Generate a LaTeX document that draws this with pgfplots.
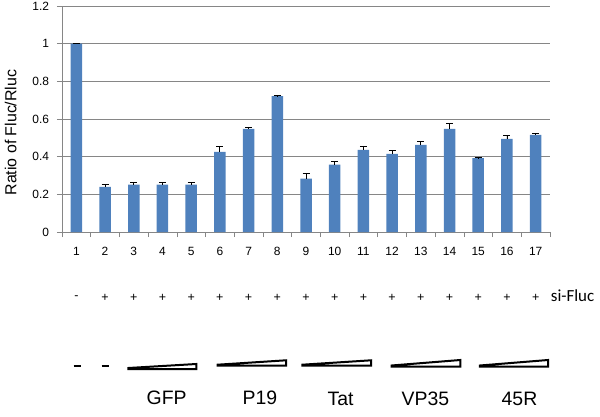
\documentclass[border=0pt]{standalone}
\usepackage{pgfplots}
\pgfplotsset{compat=1.18}
\usepackage{fontspec}
\setmainfont{Liberation Sans}
\newfontfamily\calibri{Carlito}
\definecolor{barblue}{HTML}{4F81BD}
\definecolor{gridgray}{HTML}{868686}
\begin{document}
\begin{tikzpicture}[x=1bp,y=1bp]
\begin{axis}[
  at={(0,0)}, anchor=south west,
  scale only axis, width=488bp, height=226bp,
  xmin=0.5, xmax=17.5, ymin=0, ymax=1.2,
  axis x line*=bottom, axis y line*=left,
  axis line style={gridgray, line width=0.6pt},
  ytick={0,0.2,...,1.2},
  yticklabels={0,0.2,0.4,0.6,0.8,1,1.2},
  xtick={1,...,17},
  minor xtick={0.5,1.5,...,17.5},
  major x tick style={draw=none},
  minor x tick style={gridgray, line width=0.6pt},
  y tick style={gridgray, line width=0.6pt},
  tick align=outside,
  major tick length=5bp, minor tick length=5bp,
  ymajorgrids,
  grid style={gridgray, line width=0.6pt},
  every tick label/.append style={font=\fontsize{12}{14}\selectfont},
  xticklabel style={yshift=-6.5bp},
  yticklabel style={xshift=-4.5bp},
  /pgf/number format/assume math mode=true,
  ylabel={Ratio of Fluc/Rluc},
  ylabel style={font=\fontsize{16}{18}\selectfont, at={(axis description cs:-0.105,0.44)}, anchor=center},
  clip=false,
]
\addplot[ybar, bar width=11.5bp, fill=barblue, draw=none,
  error bars/.cd, y dir=plus, y explicit,
  error bar style={black, line width=0.8pt},
  error mark options={black, rotate=90, mark size=3.5bp, line width=0.8pt}]
  table[x=x, y=y, y error=e] {
x y e
1 1.000 0
2 0.240 0.011
3 0.251 0.014
4 0.251 0.014
5 0.251 0.014
6 0.426 0.026
7 0.548 0.010
8 0.721 0.002
9 0.283 0.026
10 0.358 0.018
11 0.436 0.021
12 0.415 0.020
13 0.463 0.020
14 0.548 0.030
15 0.392 0.002
16 0.495 0.020
17 0.516 0.009
};
\end{axis}
% sign row
\foreach \i in {2,...,17} {
  \node[font=\fontsize{12.5}{14}\selectfont] at ({(\i-0.5)*488/17},-65.7) {+};
}
\node[font=\fontsize{12.5}{14}\selectfont] at ({0.5*488/17},-65.2) {-};
\node[font=\calibri\fontsize{17}{18}\selectfont, anchor=west, inner sep=0pt] at (488.7,-63.7) {si-Fluc};
% dashes
\draw[line width=2.2bp] (11.5,-133.8) -- (18.5,-133.8);
\draw[line width=2.2bp] (39.5,-133.8) -- (46.5,-133.8);
% wedges
\begin{scope}[line width=2bp, fill=white, line join=miter]
\filldraw[fill=white] (66.3,-137) -- (134.3,-137) -- (134.3,-132) -- (66.3,-136) -- cycle;
\filldraw[fill=white] (155.5,-133.7) -- (224,-133.7) -- (224,-128.3) -- (155.5,-132.7) -- cycle;
\filldraw[fill=white] (240.3,-133.7) -- (309,-133.7) -- (309,-128.3) -- (240.3,-132.7) -- cycle;
\filldraw[fill=white] (329.5,-134.5) -- (398.3,-134.5) -- (398.3,-128) -- (329.5,-133.5) -- cycle;
\filldraw[fill=white] (417.8,-134.5) -- (486,-134.5) -- (486,-128) -- (417.8,-133.5) -- cycle;
\end{scope}
% group labels
\node[font=\fontsize{19.5}{21}\selectfont] at (104.7,-166.3) {GFP};
\node[font=\fontsize{19.5}{21}\selectfont] at (198,-166.3) {P19};
\node[font=\fontsize{19.5}{21}\selectfont] at (278.5,-166.8) {Tat};
\node[font=\fontsize{19.5}{21}\selectfont] at (363.5,-166.8) {VP35};
\node[font=\fontsize{19.5}{21}\selectfont] at (457.5,-166.8) {45R};
\pgfresetboundingbox
\useasboundingbox (-62,-184) rectangle (538,232);
\end{tikzpicture}
\end{document}
